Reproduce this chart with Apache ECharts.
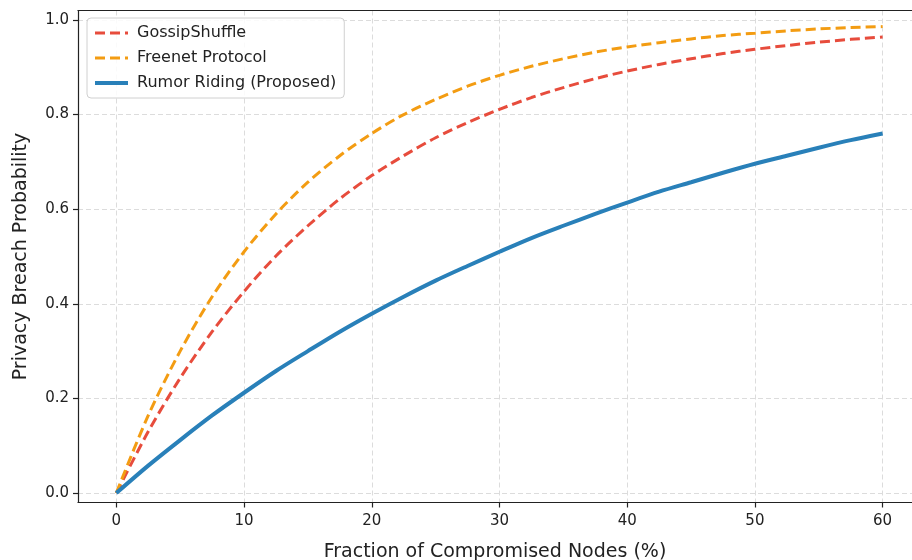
<!DOCTYPE html>
<html>
<head>
<meta charset="utf-8">
<script src="https://cdn.jsdelivr.net/npm/echarts@6/dist/echarts.min.js"></script>
<style>
  html, body { margin: 0; padding: 0; background: #fff; overflow: hidden; }
  #chart { width: 912px; height: 560px; }
</style>
</head>
<body>
<div id="chart"></div>
<script>
// fraction of compromised nodes (%)
const xValues = [0, 2.5, 5, 7.5, 10, 12.5, 15, 17.5, 20, 22.5, 25, 27.5, 30, 32.5, 35, 37.5, 40, 42.5, 45, 47.5, 50, 52.5, 55, 57.5, 60]
// breach probability
const gossipShuffle = [0, 0.130, 0.243, 0.341, 0.426, 0.501, 0.565, 0.622, 0.671, 0.713, 0.751, 0.783, 0.811, 0.836, 0.857, 0.876, 0.892, 0.906, 0.918, 0.929, 0.938, 0.946, 0.953, 0.959, 0.964]
const freenet = [0, 0.164, 0.300, 0.415, 0.510, 0.590, 0.657, 0.713, 0.760, 0.800, 0.832, 0.860, 0.883, 0.902, 0.918, 0.932, 0.943, 0.952, 0.960, 0.967, 0.972, 0.977, 0.981, 0.984, 0.986]
const rumorRiding = [0, 0.058, 0.112, 0.164, 0.212, 0.258, 0.300, 0.341, 0.379, 0.415, 0.449, 0.480, 0.510, 0.539, 0.565, 0.590, 0.614, 0.637, 0.657, 0.677, 0.696, 0.713, 0.730, 0.746, 0.760]
const xTicks = [0, 10, 20, 30, 40, 50, 60]
const yTicks = [0, 0.2, 0.4, 0.6, 0.8, 1.0]

const font = 'DejaVu Sans'
const pairs = (ys) => xValues.map((x, i) => [x, ys[i]])

const myChart = echarts.init(document.getElementById('chart'), null, { renderer: 'canvas' })

const axisCommon = {
    axisLine: { show: true, onZero: false, lineStyle: { color: '#222', width: 1.2 } },
    axisTick: { show: true, length: 5, lineStyle: { color: '#222', width: 1.2 } },
    splitLine: { show: true, lineStyle: { color: '#dcdcdc', width: 1, type: [5, 3] } },
    nameTextStyle: { fontFamily: font, fontSize: 19, color: '#222' },
}

const option = {
    animation: false,
    backgroundColor: '#fff',
    // the right spine of the original plot is cut off by the picture edge
    grid: {
        left: 78,
        top: 10.5,
        right: 0,
        bottom: 57.5,
        containLabel: false,
        outerBoundsMode: 'none'
    },
    legend: {
        orient: 'vertical',
        left: 87,
        top: 18,
        padding: [7, 8, 7, 6],
        itemGap: 9,
        itemWidth: 33,
        itemHeight: 16,
        backgroundColor: 'rgba(255,255,255,0.85)',
        borderColor: '#d0d0d0',
        borderWidth: 1,
        borderRadius: 4,
        itemStyle: { opacity: 0 },
        textStyle: { fontFamily: font, fontSize: 16, color: '#222', padding: [0, 0, 0, 4] },
        data: [
            { name: 'GossipShuffle', lineStyle: { width: 3 } },
            { name: 'Freenet Protocol', lineStyle: { width: 3 } },
            { name: 'Rumor Riding (Proposed)', lineStyle: { width: 4 } }
        ]
    },
    xAxis: [
        {
            ...axisCommon,
            type: 'value',
            min: -3,
            max: 62.3,
            name: 'Fraction of Compromised Nodes (%)',
            nameLocation: 'middle',
            nameGap: 40,
            axisTick: { ...axisCommon.axisTick, customValues: xTicks },
            axisLabel: { customValues: xTicks, fontFamily: font, fontSize: 15, color: '#222', margin: 11 },
        },
        {
            // top spine only
            type: 'value',
            position: 'top',
            min: -3,
            max: 62.3,
            axisLine: { show: true, onZero: false, lineStyle: { color: '#222', width: 1.2 } },
            axisTick: { show: false },
            axisLabel: { show: false },
            splitLine: { show: false }
        }
    ],
    yAxis: {
        ...axisCommon,
        type: 'value',
        min: -0.02,
        max: 1.02,
        name: 'Privacy Breach Probability',
        nameLocation: 'middle',
        nameGap: 47,
        axisTick: { ...axisCommon.axisTick, customValues: yTicks },
        axisLabel: {
            customValues: yTicks,
            fontFamily: font, fontSize: 15, color: '#222', margin: 9,
            formatter: (v) => v.toFixed(1)
        },
    },
    series: [
        {
            name: 'GossipShuffle',
            type: 'line',
            data: pairs(gossipShuffle),
            smooth: 0.3,
            symbol: 'none',
            lineStyle: { color: '#e74c3c', width: 3, type: [10, 5] },
            itemStyle: { color: '#e74c3c' },
            z: 3
        },
        {
            name: 'Freenet Protocol',
            type: 'line',
            data: pairs(freenet),
            smooth: 0.3,
            symbol: 'none',
            lineStyle: { color: '#f39c12', width: 3, type: [10, 5] },
            itemStyle: { color: '#f39c12' },
            z: 4
        },
        {
            name: 'Rumor Riding (Proposed)',
            type: 'line',
            data: pairs(rumorRiding),
            smooth: 0.3,
            symbol: 'none',
            lineStyle: { color: '#2980b9', width: 4 },
            itemStyle: { color: '#2980b9' },
            z: 5
        }
    ]
}

myChart.setOption(option)
window.addEventListener('resize', function () {
    myChart.resize()
})
</script>
</body>
</html>
